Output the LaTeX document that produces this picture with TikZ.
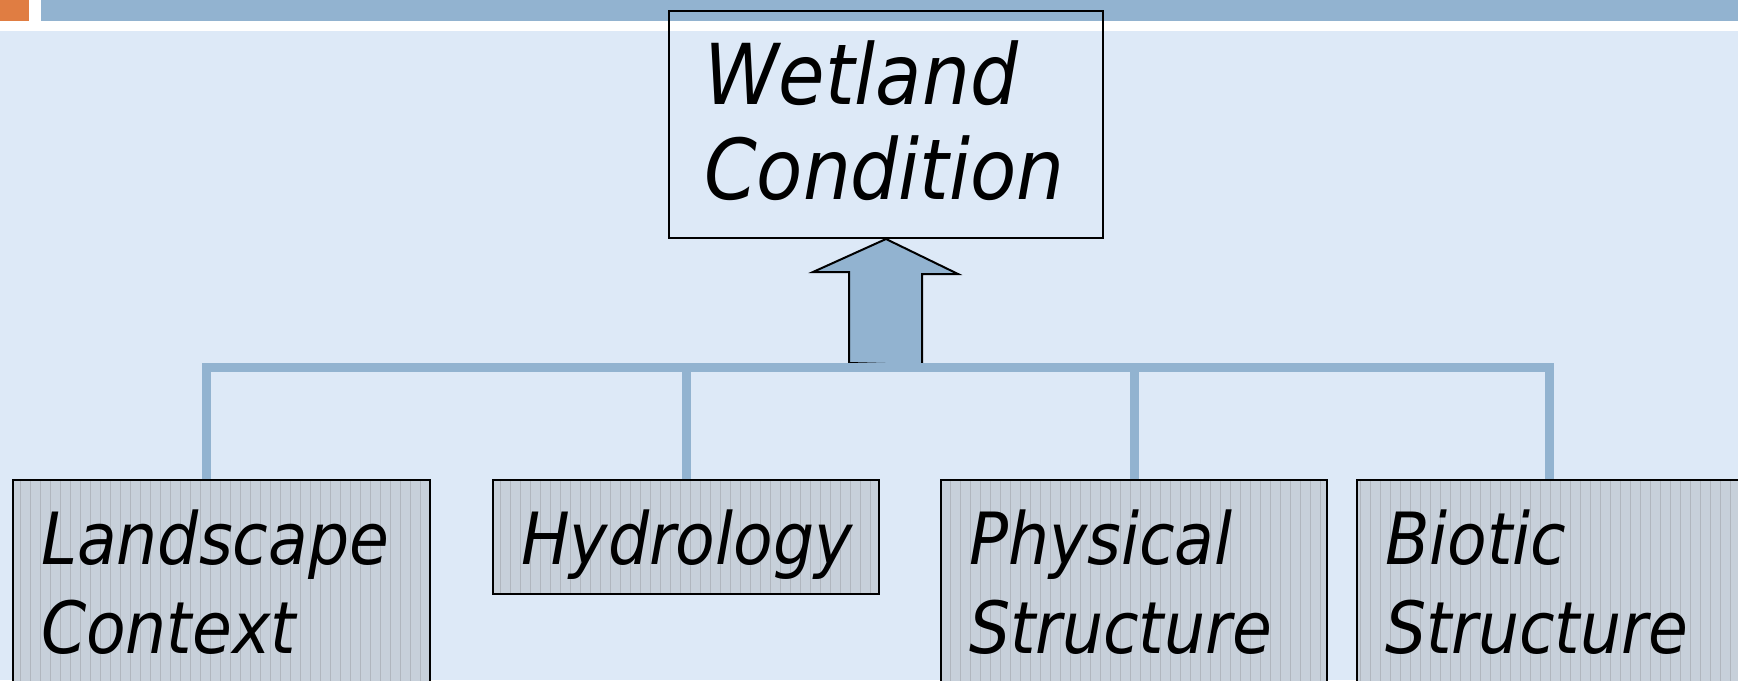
\documentclass[tikz,border=0pt]{standalone}
\usepackage{fontspec}
\usetikzlibrary{patterns.meta}
\newfontfamily\boxfont{DejaVu Sans}[FakeStretch=0.9]

\definecolor{bgblue}{RGB}{221,233,247}
\definecolor{barblue}{RGB}{146,179,208}
\definecolor{tabor}{RGB}{224,125,66}
\definecolor{boxgray}{RGB}{199,208,218}
\definecolor{stripe}{RGB}{176,182,190}

\begin{document}
\begin{tikzpicture}[x = 0.5pt, y = -0.5pt,
    topbox/.style = {draw, line width = 1pt, anchor = north west, inner ysep = 0pt,
        font = \boxfont\itshape\fontsize{42}{47.5}\selectfont, align = left},
    subbox/.style = {draw, line width = 1pt, anchor = north west, inner ysep = 0pt,
        inner xsep = 14pt, text height = 42pt,
        preaction = {fill = boxgray},
        preaction = {pattern = {Lines[angle = 90, distance = 5pt, line width = 0.5pt]}, pattern color = stripe},
        font = \boxfont\itshape\fontsize{36}{44.5}\selectfont, align = left},
    bus/.style = {draw = barblue, line width = 4.5pt},
    bigarrow/.style = {fill = barblue, draw = black, line width = 1pt}]
    \useasboundingbox (0,0) rectangle (1738,680);
    \clip (0,0) rectangle (1738,680);
    % slide background and title bar
    \fill[bgblue] (0,0) rectangle (1738,680);
    \fill[white] (0,0) rectangle (1738,31);
    \fill[tabor] (0,0) rectangle (29,21);
    \fill[barblue] (41,0) rectangle (1738,21);
    % boxes
    \node[topbox, inner xsep = 17.5pt, text width = 182pt, text height = 46.5pt, text depth = 67pt]
        (W) at (668,10) {Wetland\\Condition};
    \node[subbox, text width = 180.5pt, text depth = 63.5pt] (L) at (12,479) {Landscape\\Context};
    \node[subbox, text width = 165pt, text depth = 15pt] (H) at (492,479) {Hydrology};
    \node[subbox, text width = 165pt, text depth = 63.5pt] (P) at (940,479) {Physical\\Structure};
    \node[subbox, text width = 164pt, text depth = 63.5pt] (B) at (1356,479) {Biotic\\Structure};
    \coordinate (hub) at (885,367);
    % arrow up to the top box
    \filldraw[bigarrow] (hub) ++(-36,-4) -- ++(0,-91) -- ++(-36,0) -- (W.south)
        -- ++(72,35) -- ++(-36,0) -- ++(0,91) -- cycle;
    % connectors
    \draw[bus] ([xshift = -7.75pt]L.north) |- (hub) -| (B.north);
    \draw[bus] (H.north) -- (H.north |- hub);
    \draw[bus] (P.north) -- (P.north |- hub);
\end{tikzpicture}
\end{document}
